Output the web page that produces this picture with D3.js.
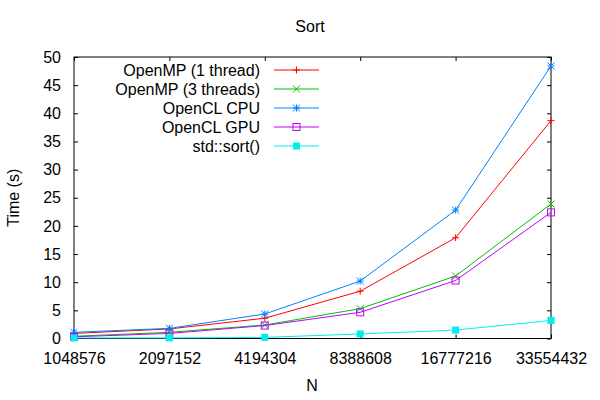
<!DOCTYPE html>
<html><head><meta charset="utf-8">
<script src="https://cdn.jsdelivr.net/npm/d3@7"></script>
<style>body{margin:0;background:#fff}svg{display:block}text{font-family:"Liberation Sans",Arial,sans-serif;font-size:16px;fill:#000}</style>
</head><body><svg id="c" width="600" height="400"></svg>
<script>
const sizes = [1048576, 2097152, 4194304, 8388608, 16777216, 33554432];
const seriesNames = ["OpenMP (1 thread)", "OpenMP (3 threads)", "OpenCL CPU", "OpenCL GPU", "std::sort()"];
const omp1 = [0.9, 1.7, 3.6, 8.4, 17.9, 38.7];
const omp3 = [0.4, 1.1, 2.4, 5.3, 11.1, 23.9];
const clCpu = [1.1, 1.8, 4.35, 10.2, 22.8, 48.4];
const clGpu = [0.3, 0.9, 2.3, 4.65, 10.3, 22.4];
const stdSort = [0.1, 0.1, 0.2, 0.8, 1.5, 3.2];
const yTicks = [0, 5, 10, 15, 20, 25, 30, 35, 40, 45, 50];
const colors = ["#ff0000", "#00c000", "#0080ff", "#c000ff", "#00eeee"];
const markers = ["plus", "cross", "star", "box", "fbox"];
const allValues = [omp1, omp3, clCpu, clGpu, stdSort];

const svg = d3.select("#c");
const L = 74, R = 551, T = 57, B = 338.5;
const x = d3.scaleLog().base(2).domain([sizes[0], sizes[sizes.length-1]]).range([L, R]);
const y = d3.scaleLinear().domain([0, 50]).range([B, T]);

svg.append("text").attr("x", 310).attr("y", 32).attr("text-anchor", "middle").text("Sort");
svg.append("text").attr("transform", "translate(19," + ((T+B)/2) + ") rotate(-90)").attr("text-anchor", "middle").text("Time (s)");
svg.append("text").attr("x", 312).attr("y", 391).attr("text-anchor", "middle").text("N");

const tk = 4;
const gy = svg.append("g").attr("transform", `translate(${L},0)`)
  .call(d3.axisLeft(y).tickValues(yTicks).tickSize(-tk).tickPadding(13).tickFormat(d3.format("d")));
const gyr = svg.append("g").attr("transform", `translate(${R},0)`)
  .call(d3.axisRight(y).tickValues(yTicks).tickSize(-tk).tickFormat(""));
const gx = svg.append("g").attr("transform", `translate(0,${B})`)
  .call(d3.axisBottom(x).tickValues(sizes).tickSize(-tk).tickPadding(14).tickFormat(d3.format("d")));
const gxt = svg.append("g").attr("transform", `translate(0,${T})`)
  .call(d3.axisTop(x).tickValues(sizes).tickSize(-tk).tickFormat(""));
[gy, gyr, gx, gxt].forEach(g => {
  g.select(".domain").remove();
  g.selectAll("line").attr("stroke", "#000");
  g.selectAll("text").style("font-size", "16px").attr("font-family", null);
});
svg.append("rect").attr("x", L).attr("y", T).attr("width", R-L).attr("height", B-T)
  .attr("fill", "none").attr("stroke", "#000").attr("stroke-width", 1);

function marker(g, type, cx, cy, col) {
  const s = 3.5;
  if (type === "plus" || type === "star") {
    g.append("path").attr("d", `M${cx-s},${cy}H${cx+s}M${cx},${cy-s}V${cy+s}`).attr("stroke", col).attr("fill", "none");
  }
  if (type === "cross" || type === "star") {
    g.append("path").attr("d", `M${cx-s},${cy-s}L${cx+s},${cy+s}M${cx-s},${cy+s}L${cx+s},${cy-s}`).attr("stroke", col).attr("fill", "none");
  }
  if (type === "box") {
    g.append("rect").attr("x", cx-s).attr("y", cy-s).attr("width", 2*s).attr("height", 2*s).attr("stroke", col).attr("fill", "none");
  }
  if (type === "fbox") {
    g.append("rect").attr("x", cx-s).attr("y", cy-s).attr("width", 2*s).attr("height", 2*s).attr("fill", col);
  }
}

const line = d3.line().x((d, i) => x(sizes[i])).y(d => y(d));
allValues.forEach((vals, k) => {
  const g = svg.append("g");
  g.append("path").attr("d", line(vals)).attr("fill", "none").attr("stroke", colors[k]).attr("stroke-width", 1);
  vals.forEach((v, i) => marker(g, markers[k], x(sizes[i]), y(v), colors[k]));
});

// legend
const lg = svg.append("g");
seriesNames.forEach((name, k) => {
  const yy = 70 + k * 19;
  lg.append("text").attr("x", 260).attr("y", yy).attr("dy", "0.35em").attr("text-anchor", "end").text(name);
  lg.append("line").attr("x1", 274).attr("x2", 319).attr("y1", yy).attr("y2", yy).attr("stroke", colors[k]);
  marker(lg, markers[k], 296.5, yy, colors[k]);
});
</script></body></html>
